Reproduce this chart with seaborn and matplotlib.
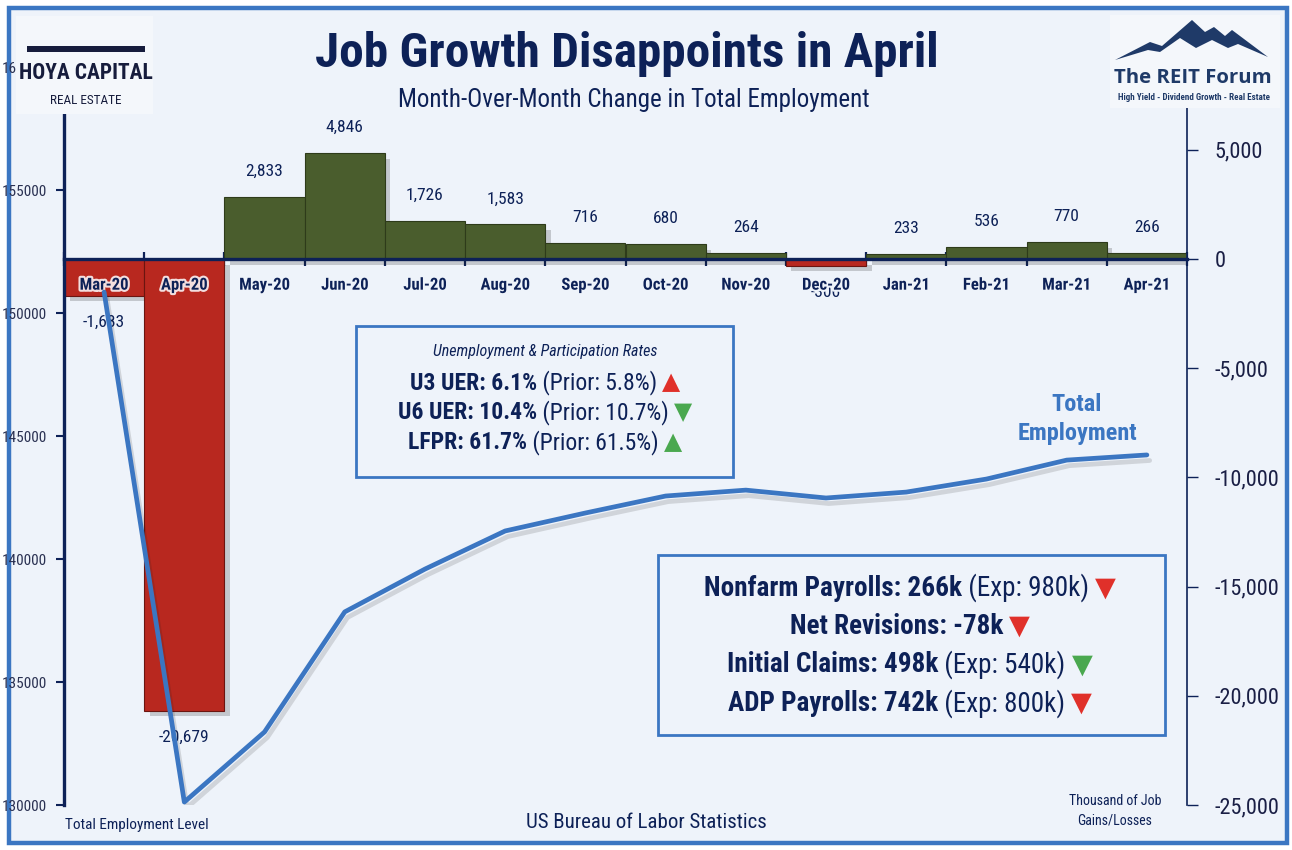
import numpy as np
import matplotlib
matplotlib.use("Agg")
import matplotlib.pyplot as plt
import matplotlib.patheffects as pe
from matplotlib import font_manager as fm
from matplotlib.patches import Rectangle, Polygon
from matplotlib.ticker import FuncFormatter
import seaborn as sns

months = ["Mar-20", "Apr-20", "May-20", "Jun-20", "Jul-20", "Aug-20", "Sep-20",
          "Oct-20", "Nov-20", "Dec-20", "Jan-21", "Feb-21", "Mar-21", "Apr-21"]
job_change = [-1683, -20679, 2833, 4846, 1726, 1583, 716, 680, 264, -306, 233, 536, 770, 266]
total_employment = [150850, 130120, 132970, 137850, 139590, 141140, 141870,
                    142560, 142800, 142480, 142720, 143250, 144020, 144230]
right_ticks = [-25000, -20000, -15000, -10000, -5000, 0, 5000]
left_ticks = [130000, 135000, 140000, 145000, 150000, 155000, 160000]

rates_box = [
    [("U3 UER: 6.1%", "bold", "#0d2157"), (" (Prior: 5.8%) ", "normal", "#0d2157"), ("▲", "normal", "#e0302a")],
    [("U6 UER: 10.4%", "bold", "#0d2157"), (" (Prior: 10.7%) ", "normal", "#0d2157"), ("▼", "normal", "#4aa84f")],
    [("LFPR: 61.7%", "bold", "#0d2157"), (" (Prior: 61.5%) ", "normal", "#0d2157"), ("▲", "normal", "#4aa84f")],
]
payroll_box = [
    [("Nonfarm Payrolls: 266k", "bold", "#0d2157"), (" (Exp: 980k) ", "normal", "#0d2157"), ("▼", "normal", "#e0302a")],
    [("Net Revisions: -78k ", "bold", "#0d2157"), ("▼", "normal", "#e0302a")],
    [("Initial Claims: 498k", "bold", "#0d2157"), (" (Exp: 540k) ", "normal", "#0d2157"), ("▼", "normal", "#4aa84f")],
    [("ADP Payrolls: 742k", "bold", "#0d2157"), (" (Exp: 800k) ", "normal", "#0d2157"), ("▼", "normal", "#e0302a")],
]

W, H = 1292, 850
BG = "#eef3fa"
NAVY = "#0d2157"
BLUE = "#3b76c2"
GREEN = "#4a5d2d"
RED = "#b8281f"

sns.set_theme(style="white")
names = {f.name for f in fm.fontManager.ttflist}
NARROW = next((n for n in ["Liberation Sans Narrow", "Roboto Condensed", "Open Sans Condensed"]
               if n in names), "DejaVu Sans")
FAM = [NARROW, "DejaVu Sans"]
plt.rcParams["font.family"] = FAM

fig = plt.figure(figsize=(W / 100, H / 100), dpi=100, facecolor="white")


def fx(x):
    return x / W


def fy(y):
    return 1 - y / H


# background frame
fig.patches.append(Rectangle((fx(9), fy(843)), fx(1278), (843 - 8) / H, transform=fig.transFigure,
                             facecolor=BG, edgecolor=BLUE, lw=3.2, zorder=-10))

ax = fig.add_axes([fx(64), fy(805), fx(1187 - 64), (805 - 67) / H])
ax.set_facecolor("none")

colors = [GREEN if v >= 0 else RED for v in job_change]
sns.barplot(x=months, y=job_change, hue=months, palette=colors, legend=False,
            width=1.0, dodge=False, saturation=1, ax=ax, linewidth=0.8)
for bar, v in zip(ax.patches, job_change):
    bar.set_edgecolor("#6b1510" if v < 0 else "#2e3b1a")
    bar.set_path_effects([pe.SimplePatchShadow(offset=(4, -4), alpha=0.2, shadow_rgbFace="k"), pe.Normal()])

for cont in ax.containers:
    v = cont.datavalues[0]
    ax.bar_label(cont, labels=[f"{v:,.0f}"], padding=13 if v > 0 else 14,
                 fontsize=12.5, color=NAVY)

ax.set_xlim(-0.5, len(months) - 0.5)
ax.set_ylim(-25000, 8790)
ax.set_xticks(np.arange(-0.5, len(months), 1.0))
ax.set_xticklabels([])
ax.tick_params(axis="x", bottom=True, direction="inout", length=10, width=1.6, color=NAVY)
for s in ["top", "left"]:
    ax.spines[s].set_visible(False)
ax.spines["bottom"].set_position(("data", 0))
ax.spines["bottom"].set_color(NAVY)
ax.spines["bottom"].set_linewidth(2.4)
ax.spines["bottom"].set_zorder(3)
ax.spines["right"].set_color(NAVY)
ax.spines["right"].set_linewidth(1.2)
ax.set_xlabel("")
ax.set_ylabel("")

for i, m in enumerate(months):
    ax.text(i, -1200, m, ha="center", va="center", fontsize=12, fontweight="bold", color=NAVY,
            path_effects=[pe.withStroke(linewidth=3, foreground="#f3dede" if job_change[i] < -1000 else BG)],
            zorder=5)

# total employment line on the left axis
ax2 = ax.twinx()
sns.lineplot(x=np.arange(len(months)), y=total_employment, ax=ax2, color=BLUE, lw=3.4)
ax2.lines[0].set_path_effects([pe.SimpleLineShadow(offset=(2, -4), alpha=0.14, shadow_color="k"), pe.Normal()])
ax2.set_ylim(130000, 160000)
ax2.yaxis.tick_left()
ax2.set_yticks(left_ticks)
ax2.yaxis.set_major_formatter(FuncFormatter(lambda v, p: f"{v:.0f}"))
ax2.tick_params(axis="y", left=True, right=False, labelleft=True, labelright=False,
                direction="out", length=6, width=1.5, color=NAVY, labelsize=11,
                labelcolor="#2a3152", pad=6)
for s in ["top", "right", "bottom"]:
    ax2.spines[s].set_visible(False)
ax2.spines["left"].set_color(NAVY)
ax2.spines["left"].set_linewidth(2.4)
ax2.set_xlabel("")
ax2.set_ylabel("")

# bars axis ticks go on the right (twinx moved them)
ax.yaxis.tick_right()
ax.set_yticks(right_ticks)
ax.yaxis.set_major_formatter(FuncFormatter(lambda v, p: f"{v:,.0f}"))
ax.tick_params(axis="y", left=False, right=True, labelleft=False, labelright=True,
               direction="out", length=8, width=1, color=NAVY, labelsize=16,
               labelcolor="#1a1f45", pad=12)

# titles
fig.text(fx(627), fy(54), "Job Growth Disappoints in April", ha="center", va="center",
         fontsize=35.5, fontweight="bold", color=NAVY)
fig.text(fx(634), fy(100), "Month-Over-Month Change in Total Employment", ha="center", va="center",
         fontsize=18, color=NAVY)

# logos
fig.patches.append(Rectangle((fx(16), fy(114)), fx(137), 98 / H, transform=fig.transFigure,
                             facecolor="#f4f7fb", edgecolor="none", zorder=5))
fig.text(fx(86), fy(73), "HOYA CAPITAL", ha="center", va="center", fontsize=15.5, fontweight="bold",
         color="#161c3c", zorder=6)
fig.text(fx(86), fy(100), "REAL ESTATE", ha="center", va="center", fontsize=9.5,
         color="#161c3c", zorder=6)
fig.patches.append(Rectangle((fx(27), fy(52)), fx(118), 6 / H, transform=fig.transFigure,
                             facecolor="#161c3c", edgecolor="none", zorder=6))
fig.patches.append(Rectangle((fx(1110), fy(108)), fx(170), 93 / H, transform=fig.transFigure,
                             facecolor="#f4f7fb", edgecolor="none", zorder=5))
mountain = [(1115, 60), (1150, 42), (1162, 46), (1192, 20), (1205, 32), (1214, 27), (1225, 36),
            (1232, 30), (1268, 57), (1238, 44), (1228, 48), (1212, 40), (1196, 48), (1180, 38),
            (1160, 52), (1148, 50)]
fig.patches.append(Polygon([(fx(x), fy(y)) for x, y in mountain], closed=True, transform=fig.transFigure,
                           facecolor="#1f3a68", edgecolor="none", zorder=6))
fig.text(fx(1193), fy(78), "The REIT Forum", ha="center", va="center", fontsize=14.7, fontweight="bold",
         color="#1f3a68", family=["Open Sans", "DejaVu Sans"], zorder=6)
fig.text(fx(1194), fy(98), "High Yield - Dividend Growth - Real Estate", ha="center", va="center",
         fontsize=6.5, fontweight="bold", color="#1f3a68", zorder=6)

# info boxes
fig.patches.append(Rectangle((fx(356), fy(477)), fx(733 - 356), (477 - 326) / H, transform=fig.transFigure,
                             facecolor=BG, edgecolor=BLUE, lw=2, zorder=4))
fig.patches.append(Rectangle((fx(658), fy(735)), fx(1165 - 658), (735 - 555) / H, transform=fig.transFigure,
                             facecolor=BG, edgecolor=BLUE, lw=2, zorder=4))

renderer = fig.canvas.get_renderer()


def rich_line(xc, y, pieces, size):
    texts = [fig.text(0, fy(y), s, fontsize=size, fontweight=w, color=c, va="center", ha="left", zorder=7)
             for s, w, c in pieces]
    widths = [t.get_window_extent(renderer).width for t in texts]
    x = xc - sum(widths) / 2
    for t, wd in zip(texts, widths):
        t.set_x(fx(x))
        x += wd


fig.text(fx(545), fy(352), "Unemployment & Participation Rates", ha="center", va="center",
         fontsize=11.5, style="italic", color=NAVY, zorder=7)
for k, line in enumerate(rates_box):
    rich_line(545, 383 + k * 30, line, 17)
for k, line in enumerate(payroll_box):
    rich_line(910, 588 + k * 38.5, line, 19.5)

fig.text(fx(1077), fy(419), "Total\nEmployment", ha="center", va="center", fontsize=17.5,
         fontweight="bold", color=BLUE, linespacing=1.3)

# footers
fig.text(fx(65), fy(825), "Total Employment Level", ha="left", va="center", fontsize=11, color=NAVY)
fig.text(fx(646), fy(823), "US Bureau of Labor Statistics", ha="center", va="center", fontsize=15, color=NAVY)
fig.text(fx(1115), fy(811), "Thousand of Job\nGains/Losses", ha="center", va="center", fontsize=10,
         color=NAVY, linespacing=1.5)

fig.savefig("out.png", dpi=100, facecolor="white")
